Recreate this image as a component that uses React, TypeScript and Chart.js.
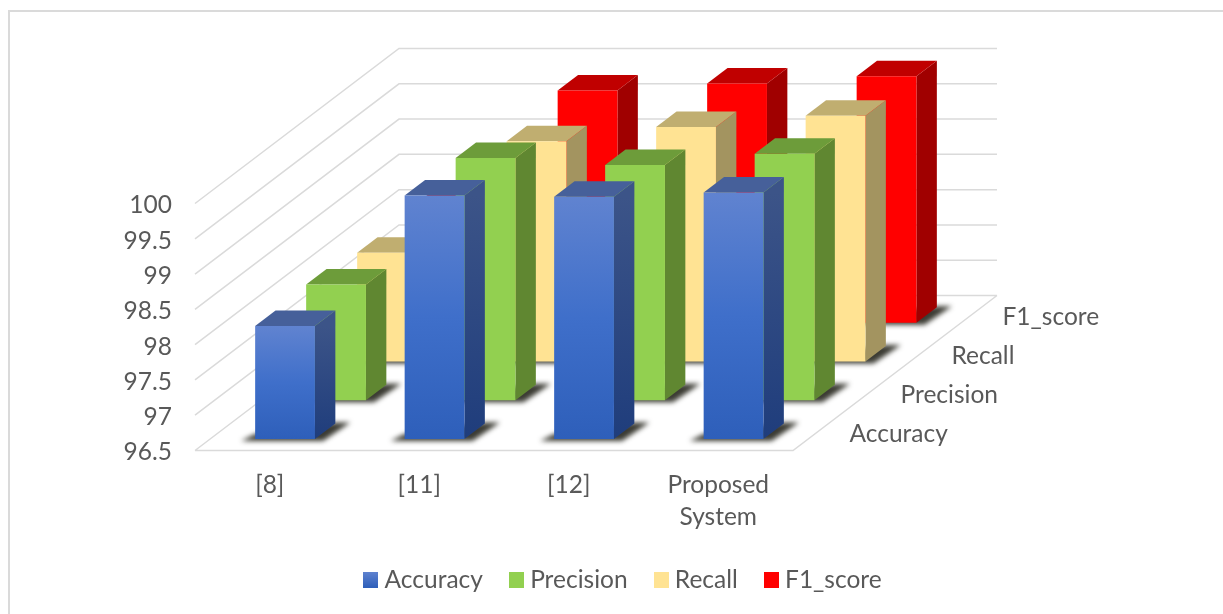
import React, { useEffect, useRef } from "react";
import { Chart, registerables } from "chart.js";

Chart.register(...registerables);

const systems = ["[8]", "[11]", "[12]", ["Proposed", "System"]];
const metricNames = ["Accuracy", "Precision", "Recall", "F1_score"];
const yTicksMin = 96.5;
const yTicksMax = 100;
const yTickStep = 0.5;

const accuracy = [98.1, 99.95, 99.93, 99.99];
const precision = [98.14, 99.93, 99.83, 99.99];
const recall = [98.04, 99.62, 99.82, 99.98];
const f1Score = [98.1, 99.79, 99.89, 99.99];
const seriesValues = [accuracy, precision, recall, f1Score];

// [front top, front middle, front bottom, side top, side bottom, cap]
const faceColours = [
  ["#6083d0", "#3f6fca", "#2e5fba", "#3c5488", "#1f3d7c", "#46609a"],
  ["#92d050", "#92d050", "#92d050", "#608731", "#608731", "#6d9c3a"],
  ["#ffe393", "#ffe393", "#ffe393", "#a39460", "#a39460", "#c0ae70"],
  ["#ff0000", "#ff0000", "#ff0000", "#a00000", "#a00000", "#c00000"],
];

const TEXT_COLOUR = "#595959";
const GRID_COLOUR = "#dadada";
const FONT_FAMILY = "Lato";
const FONT_SIZE = 24.5;

// Oblique projection of the depth axis: how far the back wall is shifted from the front plane.
const WALL_DX = 204;
const WALL_DY = -155;
const SLOTS = metricNames.length;
const BAR_DEPTH = 0.4;

const project = (slotPosition: number) => ({
  dx: (WALL_DX * slotPosition) / SLOTS,
  dy: (WALL_DY * slotPosition) / SLOTS,
});

function makeSwatch(colours: string[]) {
  const c = document.createElement("canvas");
  c.width = 15;
  c.height = 16;
  const g = c.getContext("2d")!;
  const grad = g.createLinearGradient(0, 0, 0, 16);
  grad.addColorStop(0, colours[0]);
  grad.addColorStop(1, colours[2]);
  g.fillStyle = grad;
  g.fillRect(0, 0, 15, 16);
  return c;
}

function fillPoly(ctx: CanvasRenderingContext2D, pts: number[][], fill: string | CanvasGradient) {
  ctx.fillStyle = fill;
  ctx.beginPath();
  pts.forEach(([x, y], i) => (i ? ctx.lineTo(x, y) : ctx.moveTo(x, y)));
  ctx.closePath();
  ctx.fill();
}

function vGradient(ctx: CanvasRenderingContext2D, y0: number, y1: number, stops: string[]) {
  const g = ctx.createLinearGradient(0, y0, 0, y1);
  stops.forEach((s, i) => g.addColorStop(stops.length > 1 ? i / (stops.length - 1) : 0, s));
  return g;
}

// Nudges an axis' tick labels vertically without moving the axis itself.
function nudgeLabels(scale: any, dy: number) {
  if (scale.$nudged) return;
  scale.$nudged = true;
  const draw = scale.drawLabels;
  scale.drawLabels = function (area: any) {
    this.ctx.save();
    this.ctx.translate(0, dy);
    draw.call(this, area);
    this.ctx.restore();
  };
}

const frameAndWalls = {
  id: "frameAndWalls",
  beforeDatasetsDraw(chart: any) {
    const { ctx, chartArea, scales } = chart;
    const { left, right, bottom } = chartArea;
    ctx.save();
    ctx.strokeStyle = GRID_COLOUR;

    // outer chart border, open on the right and at the bottom
    ctx.lineWidth = 2;
    ctx.beginPath();
    ctx.moveTo(9, chart.height);
    ctx.lineTo(9, 11);
    ctx.lineTo(chart.width, 11);
    ctx.stroke();

    ctx.lineWidth = 1.5;
    ctx.beginPath();
    for (const tick of scales.y.ticks) {
      const y = scales.y.getPixelForValue(tick.value);
      ctx.moveTo(left, y);
      ctx.lineTo(left + WALL_DX, y + WALL_DY);
      ctx.lineTo(right + WALL_DX, y + WALL_DY);
    }
    // floor outline
    ctx.moveTo(left, bottom);
    ctx.lineTo(right, bottom);
    ctx.lineTo(right + WALL_DX, bottom + WALL_DY);
    ctx.stroke();

    // depth axis labels
    ctx.fillStyle = TEXT_COLOUR;
    ctx.font = `${FONT_SIZE}px ${FONT_FAMILY}`;
    ctx.textAlign = "left";
    ctx.textBaseline = "middle";
    metricNames.forEach((name, i) => {
      const { dx, dy } = project(i + 0.5);
      ctx.fillText(name, right + dx + 31, bottom + dy + 2.5);
    });
    ctx.restore();
  },
};

const boxBars = {
  id: "boxBars",
  beforeDatasetDraw(chart: any, args: any) {
    const { ctx } = chart;
    const i = args.index;
    const colours = faceColours[i];
    const front = project(i + 0.5 - BAR_DEPTH / 2);
    const back = project(i + 0.5 + BAR_DEPTH / 2);
    const ox = back.dx - front.dx;
    const oy = back.dy - front.dy;

    ctx.save();
    ctx.translate(front.dx, front.dy);
    for (const el of args.meta.data) {
      const x0 = el.x - el.width / 2;
      const x1 = el.x + el.width / 2;
      const top = el.y;
      const base = el.base;

      // soft contact shadow on the floor
      ctx.save();
      ctx.filter = "blur(2.5px)";
      fillPoly(
        ctx,
        [
          [x0 - 14, base + 2],
          [x1 + 8, base + 2],
          [x1 + ox + 15, base + oy - 1],
          [x1 + ox, base + oy - 1],
          [x0, base - 5],
        ],
        "rgba(25,25,15,0.85)"
      );
      ctx.restore();

      fillPoly(
        ctx,
        [
          [x1, top],
          [x1 + ox, top + oy],
          [x1 + ox, base + oy],
          [x1, base],
        ],
        vGradient(ctx, top, base, [colours[3], colours[4]])
      );
      fillPoly(
        ctx,
        [
          [x0, top],
          [x0 + ox, top + oy],
          [x1 + ox, top + oy],
          [x1, top],
        ],
        colours[5]
      );
      fillPoly(
        ctx,
        [
          [x0, top],
          [x1, top],
          [x1, base],
          [x0, base],
        ],
        vGradient(ctx, top, base, [colours[0], colours[1], colours[2]])
      );
    }
    ctx.restore();
    return false;
  },
};

export default function App() {
  const ref = useRef<HTMLCanvasElement>(null);

  useEffect(() => {
    const swatches = faceColours.map(makeSwatch);
    const font = { family: FONT_FAMILY, size: FONT_SIZE };
    const chart = new Chart(ref.current!, {
      type: "bar",
      data: {
        labels: systems as any,
        datasets: metricNames.map((name, i) => ({
          label: name,
          data: seriesValues[i],
          backgroundColor: faceColours[i][1],
          base: yTicksMin,
          grouped: false,
          barPercentage: 0.4,
          categoryPercentage: 1,
        })),
      },
      plugins: [frameAndWalls, boxBars],
      options: {
        responsive: false,
        animation: false,
        layout: { padding: { left: 28, right: 0, top: 203.5, bottom: 12 } },
        scales: {
          x: {
            grid: { display: false },
            border: { display: false },
            ticks: {
              color: TEXT_COLOUR,
              font: { ...font, lineHeight: 1.3 },
              padding: 11,
              maxRotation: 0,
              autoSkip: false,
            },
            afterFit(s: any) {
              s.height = 85;
            },
          },
          y: {
            min: yTicksMin,
            max: yTicksMax,
            grid: { display: false },
            border: { display: false },
            ticks: {
              stepSize: yTickStep,
              color: TEXT_COLOUR,
              font,
              padding: 15,
              callback: (v: any) => String(v),
            },
            afterFit(s: any) {
              s.width = 167;
              nudgeLabels(s, 2);
            },
          },
          // reserves the space taken by the receding side of the floor
          depth: {
            type: "category",
            axis: "y",
            position: "right",
            labels: metricNames,
            grid: { display: false },
            border: { display: false },
            ticks: { display: false },
            afterFit(s: any) {
              s.width = 430;
            },
          } as any,
        },
        plugins: {
          tooltip: { enabled: false },
          legend: {
            position: "bottom",
            labels: {
              color: TEXT_COLOUR,
              font,
              usePointStyle: true,
              pointStyleWidth: 3,
              boxHeight: 16,
              padding: 32,
              generateLabels: (c: any) =>
                Chart.defaults.plugins.legend.labels
                  .generateLabels(c)
                  .map((item: any, i: number) => ({ ...item, pointStyle: swatches[i] })),
            },
          },
        },
      },
    } as any);
    return () => chart.destroy();
  }, []);

  return (
    <div style={{ position: "absolute", left: 0, top: 0, width: 1223, height: 614, background: "#fff" }}>
      <canvas ref={ref} width={1223} height={614} style={{ display: "block" }} />
    </div>
  );
}
